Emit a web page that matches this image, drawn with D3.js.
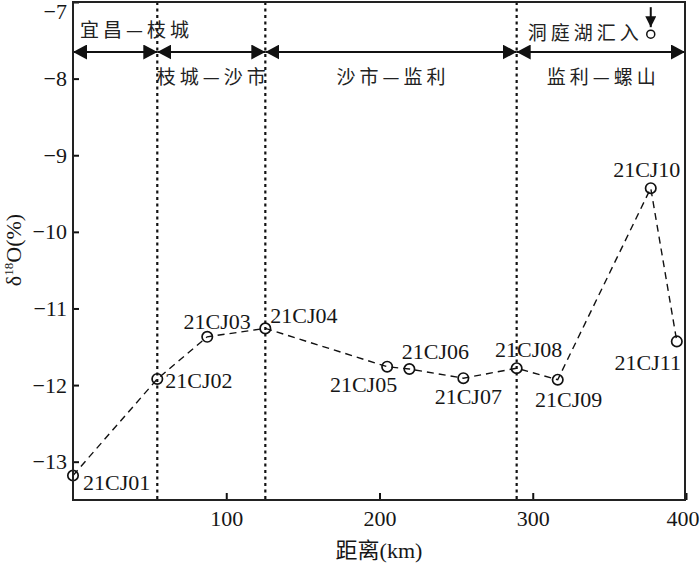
<!DOCTYPE html>
<html>
<head>
<meta charset="utf-8">
<script src="https://cdn.jsdelivr.net/npm/d3@7"></script>
<style>
    body { margin: 0; background: #fff; }
    text { font-family: "Liberation Serif", "Times New Roman", "Noto Sans CJK SC", serif; fill: #161616; }
    .cjk { font-family: "Noto Sans CJK SC", sans-serif; font-size: 19px; letter-spacing: 4px; fill: #222; }
</style>
</head>
<body>
<svg width="700" height="564"></svg>
<script>
// sampling sites along the river
var samples = ["21CJ01", "21CJ02", "21CJ03", "21CJ04", "21CJ05", "21CJ06",
               "21CJ07", "21CJ08", "21CJ09", "21CJ10", "21CJ11"];
var distance = [0, 55, 87.6, 125.5, 205, 219.5, 254.7, 289.5, 316.3, 377, 394]; // km
var d18O = [-13.18, -11.92, -11.37, -11.26, -11.76, -11.79, -11.91, -11.78, -11.93, -9.43, -11.43];

// river reaches
var reachNames = ["宜昌—枝城", "枝城—沙市", "沙市—监利", "监利—螺山"];
var reachBounds = [0, 55, 125.5, 289.5, 400];

// Dongting Lake inflow
var inflowName = "洞庭湖汇入";
var inflowDist = 377;
var inflowValue = -7.42;

var xTicks = [100, 200, 300, 400];
var yTicks = [-7, -8, -9, -10, -11, -12, -13];

window.onload = main;

function main() {
    var svg = d3.select("svg");
    var left = 73, right = 685, top = 2, bottom = 500;

    var x = d3.scaleLinear().domain([0, 400]).range([left, right + 1]);
    var y = d3.scaleLinear().domain([-13.5, -7]).range([bottom, top]);

    // label placement [dx, dy, anchor]
    var labelPos = [
        [10, 7, "start"], [8, 1, "start"], [10, -16, "middle"], [5, -13, "start"],
        [10, 18, "end"], [26, -18, "middle"], [5, 18, "middle"], [12, -19, "middle"],
        [11, 20, "middle"], [-4, -19, "middle"], [-29, 21, "middle"]
    ];

    var defs = svg.append("defs");
    defs.append("marker")
        .attr("id", "head")
        .attr("viewBox", "0 0 14 15")
        .attr("refX", 14).attr("refY", 7.5)
        .attr("markerUnits", "userSpaceOnUse")
        .attr("markerWidth", 14).attr("markerHeight", 15)
        .attr("orient", "auto-start-reverse")
        .append("path").attr("d", "M0,0L14,7.5L0,15Z").attr("fill", "#111");
    defs.append("marker")
        .attr("id", "small")
        .attr("viewBox", "0 0 11 12")
        .attr("refX", 11).attr("refY", 5.5)
        .attr("markerUnits", "userSpaceOnUse")
        .attr("markerWidth", 11).attr("markerHeight", 12)
        .attr("orient", "auto")
        .append("path").attr("d", "M0,0L11,5.5L0,11Z").attr("fill", "#111");

    // reach boundaries (dotted)
    svg.selectAll("line.bound")
        .data(reachBounds.slice(1, 4))
        .enter().append("line")
        .attr("class", "bound")
        .attr("x1", d => x(d)).attr("x2", d => x(d))
        .attr("y1", top).attr("y2", bottom)
        .attr("stroke", "#111").attr("stroke-width", 2.2)
        .attr("stroke-dasharray", "3,3.5");

    // reach arrows
    var arrowY = 52;
    svg.selectAll("line.reach")
        .data(reachNames)
        .enter().append("line")
        .attr("class", "reach")
        .attr("x1", (d, i) => x(reachBounds[i]))
        .attr("x2", (d, i) => x(reachBounds[i + 1]) - (i == 3 ? 1 : 0))
        .attr("y1", arrowY).attr("y2", arrowY)
        .attr("stroke", "#111").attr("stroke-width", 2)
        .attr("marker-start", "url(#head)")
        .attr("marker-end", "url(#head)");

    svg.selectAll("text.reach")
        .data(reachNames)
        .enter().append("text")
        .attr("class", "cjk")
        .attr("x", (d, i) => i == 0 ? x(reachBounds[0]) + 7 : (x(reachBounds[i]) + x(reachBounds[i + 1])) / 2 + 2)
        .attr("y", (d, i) => i == 0 ? 30 : 77)
        .attr("dy", "0.35em")
        .attr("text-anchor", (d, i) => i == 0 ? "start" : "middle")
        .text(d => d);

    // Dongting inflow marker
    var ix = x(inflowDist), iy = y(inflowValue);
    svg.append("line")
        .attr("x1", ix).attr("x2", ix)
        .attr("y1", iy - 27).attr("y2", iy - 7)
        .attr("stroke", "#111").attr("stroke-width", 2)
        .attr("marker-end", "url(#small)");
    svg.append("circle")
        .attr("cx", ix).attr("cy", iy).attr("r", 4)
        .attr("fill", "none").attr("stroke", "#111").attr("stroke-width", 1.5);
    svg.append("text")
        .attr("class", "cjk")
        .attr("x", ix - 8).attr("y", iy - 1)
        .attr("dy", "0.35em")
        .attr("text-anchor", "end")
        .text(inflowName);

    // data line
    var pts = distance.map((d, i) => [d, d18O[i]]);
    var line = d3.line().x(d => x(d[0])).y(d => y(d[1]));
    svg.append("path")
        .datum(pts)
        .attr("d", line)
        .attr("fill", "none")
        .attr("stroke", "#111").attr("stroke-width", 1.4)
        .attr("stroke-dasharray", "7,5");

    svg.selectAll("circle.pt")
        .data(pts)
        .enter().append("circle")
        .attr("class", "pt")
        .attr("cx", d => x(d[0])).attr("cy", d => y(d[1]))
        .attr("r", 5.2)
        .attr("fill", "none").attr("stroke", "#111").attr("stroke-width", 1.7);

    svg.selectAll("text.lbl")
        .data(samples)
        .enter().append("text")
        .attr("class", "lbl")
        .attr("x", (d, i) => x(distance[i]) + labelPos[i][0])
        .attr("y", (d, i) => y(d18O[i]) + labelPos[i][1])
        .attr("dy", "0.35em")
        .attr("text-anchor", (d, i) => labelPos[i][2])
        .style("font-size", "22px")
        .text(d => d);

    // axes
    var yAxis = d3.axisLeft(y).tickValues(yTicks).tickSizeInner(-6).tickSizeOuter(0).tickPadding(6)
        .tickFormat(d3.format("d"));
    var gy = svg.append("g").attr("transform", "translate(" + left + ",0)").call(yAxis);
    var xAxis = d3.axisBottom(x).tickValues(xTicks).tickSizeInner(-7).tickSizeOuter(0).tickPadding(10);
    var gx = svg.append("g").attr("transform", "translate(0," + bottom + ")").call(xAxis);

    [gx, gy].forEach(function (g) {
        g.select(".domain").remove();
        g.selectAll(".tick line").attr("stroke", "#111").attr("stroke-width", 2);
        g.selectAll(".tick text")
            .attr("fill", "#161616")
            .style("font-family", "'Liberation Serif', serif")
            .style("font-size", "22px");
    });
    // keep the edge labels inside the page
    gx.selectAll(".tick text").filter(d => d == 400).attr("text-anchor", "end").attr("x", 13);
    gy.selectAll(".tick text").filter(d => d == -7).attr("dy", "0.75em");

    // frame
    svg.append("rect")
        .attr("x", left).attr("y", top)
        .attr("width", right - left).attr("height", bottom - top)
        .attr("fill", "none").attr("stroke", "#222").attr("stroke-width", 2);

    // axis titles
    svg.append("text")
        .attr("x", (left + right) / 2).attr("y", 550)
        .attr("dy", "0.35em")
        .attr("text-anchor", "middle")
        .style("font-size", "22px")
        .text("距离(km)");

    var yt = svg.append("text")
        .attr("transform", "translate(21,250) rotate(-90)")
        .attr("text-anchor", "middle")
        .style("font-size", "22px");
    yt.append("tspan").text("δ");
    yt.append("tspan").attr("dy", -8).style("font-size", "13px").text("18");
    yt.append("tspan").attr("dy", 8).text("O(%)");
}
</script>
</body>
</html>
